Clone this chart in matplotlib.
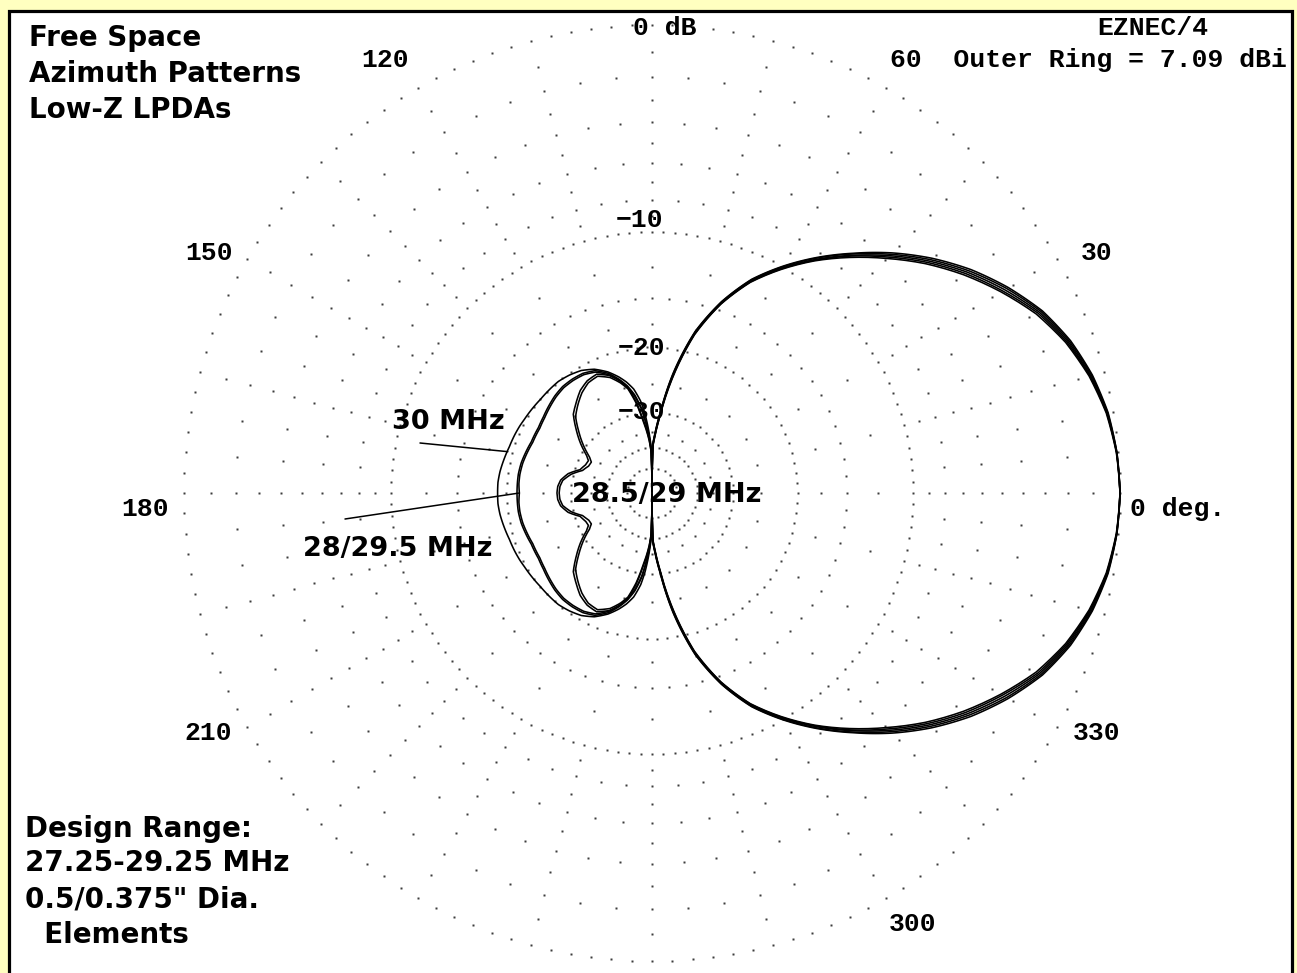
import numpy as np
import matplotlib
matplotlib.use("Agg")
import matplotlib.pyplot as plt
from matplotlib.patches import Rectangle

# figure size in pixels and plot centre / outer ring radius
W, H = 1297, 973
CX, CY, RPX = 652, 493, 468

# azimuth angles (deg) for the half pattern 0..180, mirrored for 180..360
angles = [0, 5, 10, 15, 20, 25, 30, 35, 40, 45, 50, 55, 60, 65, 70, 75, 80, 84, 87, 89,
          90, 91, 93, 95, 97, 100, 103, 106, 110, 115, 120, 125, 130, 135, 140, 145,
          150, 153, 157, 162, 167, 172, 176, 180]

# relative gain in dB (0 dB = outer ring = 7.09 dBi)
db_28 = [0, -0.06, -0.22, -0.52, -0.95, -1.55, -2.4, -3.35, -4.45, -5.7, -7.05, -8.5,
         -10.1, -11.9, -14.4, -17.8, -23.5, -30.3, -35.5, -39.0,
         -100, -41, -36, -32.5, -29.5, -26.8, -25.0, -23.8, -22.5, -21.5, -21.1, -21.0,
         -21.0, -21.2, -21.5, -21.8, -22.0, -22.0, -22.0, -21.8, -21.6, -21.5, -21.5, -21.6]
db_28_5 = [0, -0.06, -0.23, -0.55, -1.0, -1.62, -2.5, -3.45, -4.55, -5.8, -7.1, -8.55,
           -10.15, -11.95, -14.45, -17.9, -23.7, -30.5, -35.7, -39.3,
           -100, -42, -37, -34, -31.5, -27.6, -25.0, -23.8, -22.6, -21.8, -22.0, -22.6,
           -23.6, -24.6, -26.6, -28.7, -31.2, -32.2, -32.0, -31.2, -29.0, -27.8, -27.4, -27.3]
db_29 = [0, -0.07, -0.25, -0.58, -1.05, -1.7, -2.58, -3.55, -4.65, -5.9, -7.2, -8.6,
         -10.2, -12.0, -14.5, -18.0, -23.9, -30.7, -36.0, -39.5,
         -100, -42, -37.5, -34.5, -32, -28.0, -25.3, -24.1, -22.9, -22.1, -22.3, -23.0,
         -24.0, -25.1, -27.2, -29.4, -32.0, -33.0, -32.8, -31.8, -29.6, -28.2, -27.8, -27.7]
db_29_5 = [0, -0.05, -0.2, -0.48, -0.9, -1.48, -2.3, -3.25, -4.35, -5.6, -6.95, -8.4,
           -10.0, -11.8, -14.3, -17.7, -23.3, -30.1, -35.3, -38.8,
           -100, -41, -35.8, -32.2, -29.2, -26.5, -24.8, -23.6, -22.3, -21.3, -20.9, -20.8,
           -20.8, -21.0, -21.3, -21.6, -21.8, -21.8, -21.8, -21.6, -21.4, -21.3, -21.3, -21.3]
db_30 = [0, -0.05, -0.18, -0.45, -0.85, -1.42, -2.22, -3.15, -4.25, -5.5, -6.9, -8.35,
         -9.95, -11.75, -14.25, -17.6, -23.1, -29.9, -35.0, -38.5,
         -100, -40, -34.5, -30.5, -27.8, -25.5, -24.2, -23.2, -22.1, -21.1, -20.5, -20.2,
         -20.0, -20.0, -20.0, -19.9, -19.8, -19.7, -19.6, -19.5, -19.3, -19.1, -19.0, -19.0]
patterns = [db_28, db_28_5, db_29, db_29_5, db_30]

# grid: dotted rings and dotted radials
ring_levels = [0, -10, -20, -30, -40, -50]
ring_steps = [2.5, 2.5, 4, 6, 9, 15]
radial_fine = [-1, -2, -3, -4, -5, -6, -7, -8, -9, -12.5, -15, -17.5, -25, -35]
radial_coarse = [-2, -4, -6, -8, -15]

angle_labels = ["30", "120", "150", "180", "210", "300", "330"]
ring_labels = ["0 dB", "\u221210", "\u221220", "\u221230"]


def fx(px):
    return px / W


def fy(py):
    return 1 - py / H


# ARRL log scale: radius falls to 0.89 for every 2 dB
def fwd(db):
    return np.power(0.89, -np.asarray(db, dtype=float) / 2)


def inv(v):
    return -2 * np.log(np.clip(v, 1e-12, None)) / np.log(0.89)


fig = plt.figure(figsize=(W / 100, H / 100), dpi=100, facecolor="#FFFFC0")
fig.patches.append(Rectangle((fx(8.5), fy(995)), (1292 - 8.5) / W, (995 - 11) / H,
                             transform=fig.transFigure, fc="white", ec="black",
                             lw=2.3, zorder=-5))

ax = fig.add_axes([fx(CX - RPX), fy(CY + RPX), 2 * RPX / W, 2 * RPX / H],
                  projection="polar")
ax.set_rscale("function", functions=(fwd, inv))
ax.set_rlim(-120, 0)
ax.set_xticks([])
ax.set_yticks([])
ax.grid(False)
ax.spines["polar"].set_visible(False)
ax.patch.set_alpha(0)

dot = dict(ls="none", marker="s", ms=1.45, mec="none", mfc="#3c3c3c", clip_on=False)
for lev, st in zip(ring_levels, ring_steps):
    th = np.radians(np.arange(0, 360, st))
    ax.plot(th, np.full(len(th), lev), **dot)
for a in range(0, 360, 5):
    levs = radial_fine if a % 15 == 0 else radial_coarse
    ax.plot(np.full(len(levs), np.radians(a)), levs, **dot)

# full patterns, segments bent along the polar grid
ang = np.array(angles, dtype=float)
for d in patterns:
    d = np.array(d)
    th = np.concatenate([ang, 360 - ang[-2::-1]])
    r = np.concatenate([d, d[-2::-1]])
    ln, = ax.plot(np.radians(th), r, color="black", lw=1.15, clip_on=False, zorder=3)
    ln.get_path()._interpolation_steps = 12

sans = dict(family="DejaVu Sans", weight="bold", size=20, color="black")
lab_sans = dict(family="DejaVu Sans", weight="bold", size=19.5, color="black")
mono = dict(family=["Liberation Mono", "DejaVu Sans Mono"], weight="bold", size=19,
            color="black")

# header / footer notes
for txt, yb in zip(["Free Space", "Azimuth Patterns", "Low-Z LPDAs"], [46, 82, 118]):
    fig.text(fx(29), fy(yb), txt, ha="left", va="baseline", **sans)
for txt, yb in zip(["Design Range:", "27.25-29.25 MHz", "0.5/0.375\" Dia.", "  Elements"],
                   [837, 871, 907, 943]):
    fig.text(fx(25), fy(yb), txt, ha="left", va="baseline", **sans)

fig.text(fx(1097), fy(35), "EZNEC/4", ha="left", va="baseline", **mono)
fig.text(fx(890), fy(67), "60  Outer Ring = 7.09 dBi", ha="left", va="baseline", **mono)
fig.text(fx(1130), fy(516), "0 deg.", ha="left", va="baseline", **mono)

label_pos = [(1097, 260), (385, 67), (209, 260), (145, 516), (208, 740), (913, 931),
             (1097, 740)]
for lab, (x, y) in zip(angle_labels, label_pos):
    fig.text(fx(x), fy(y), lab, ha="center", va="baseline", **mono)

ring_pos = [(633, 35, "left"), (640, 227, "center"), (642, 355, "center"), (642, 419, "center")]
for lab, (x, y, ha) in zip(ring_labels, ring_pos):
    fig.text(fx(x), fy(y), lab, ha=ha, va="baseline", zorder=5, **mono)

# frequency labels
fig.text(fx(448), fy(429), "30 MHz", ha="center", va="baseline", **lab_sans)
fig.text(fx(398), fy(556), "28/29.5 MHz", ha="center", va="baseline", **lab_sans)
fig.text(fx(667), fy(502), "28.5/29 MHz", ha="center", va="baseline", **lab_sans)

lead = dict(arrowstyle="-", color="black", lw=1.1, shrinkA=0, shrinkB=0)
ax.annotate("", xy=(np.radians(164), db_30[39]), xycoords="data",
            xytext=(fx(420), fy(443)), textcoords="figure fraction",
            arrowprops=lead, annotation_clip=False)
ax.annotate("", xy=(np.pi, db_28[-1]), xycoords="data",
            xytext=(fx(345), fy(519)), textcoords="figure fraction",
            arrowprops=lead, annotation_clip=False)

fig.savefig("out.png", dpi=100, facecolor=fig.get_facecolor())
